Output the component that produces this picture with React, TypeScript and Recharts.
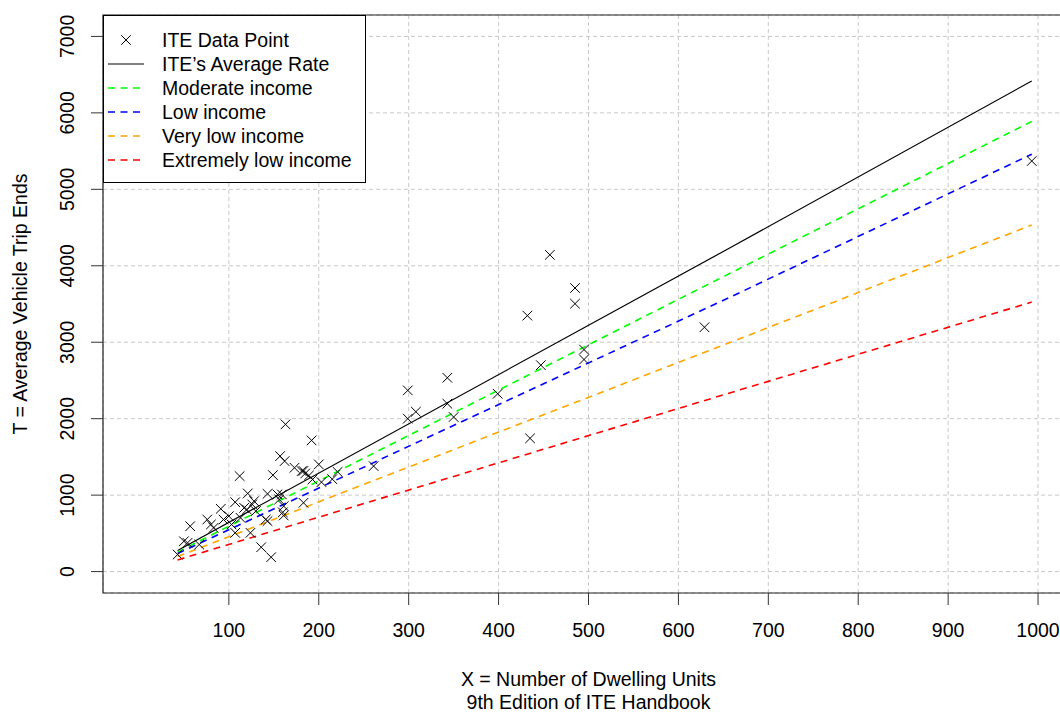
import React from "react";
import {
  CartesianGrid,
  ComposedChart,
  Label,
  Legend,
  Line,
  ReferenceArea,
  Scatter,
  XAxis,
  YAxis,
} from "recharts";

const FONT = '"Liberation Sans", Arial, Helvetica, sans-serif';
const FONT_SIZE = 19.5;

// ITE data points (X = dwelling units, T = trip ends)
const dwellingUnits = [
  43, 50, 54, 57, 67, 76, 80, 83, 91, 94, 100, 103, 107, 107, 112, 113, 117,
  120, 121, 124, 126, 128, 130, 136, 141, 143, 143, 147, 149, 154, 156, 157,
  159, 160, 161, 161, 162, 163, 173, 181, 183, 183, 185, 189, 192, 193, 200,
  203, 215, 221, 261, 299, 299, 308, 343, 343, 350, 399, 432, 435, 447, 457,
  485, 485, 495, 495, 629, 993,
];
const tripEnds = [
  223, 397, 376, 594, 354, 681, 616, 572, 821, 681, 725, 616, 507, 908, 1249,
  703, 834, 812, 1022, 507, 878, 921, 791, 319, 681, 661, 1017, 188, 1262,
  1009, 943, 1511, 1009, 775, 856, 734, 1445, 1926, 1358, 1314, 900, 1317,
  1284, 1257, 1716, 1205, 1402, 1170, 1209, 1304, 1380, 2000, 2370, 2091,
  2196, 2535, 2022, 2326, 3348, 1743, 2700, 4143, 3504, 3709, 2774, 2904,
  3196, 5370,
];

// fitted lines, read at the start, middle and end of each curve
const fitUnits = [43, 658, 993];
const iteAverageRate = [277, 4239, 6417];
const moderateIncome = [255, 3905, 5888];
const lowIncome = [236, 3592, 5459];
const veryLowIncome = [196, 3000, 4533];
const extremelyLowIncome = [153, 2340, 3525];

const xTicks = [100, 200, 300, 400, 500, 600, 700, 800, 900, 1000];
const yTicks = [0, 1000, 2000, 3000, 4000, 5000, 6000, 7000];

const points = dwellingUnits.map((x, i) => ({ x, y: tripEnds[i] }));
const toSeries = (ys: number[]) => fitUnits.map((x, i) => ({ x, y: ys[i] }));

const DASH = "7 5.5";

const fits = [
  { name: "ITE’s Average Rate", data: toSeries(iteAverageRate), color: "#000000", dash: undefined as string | undefined },
  { name: "Moderate income", data: toSeries(moderateIncome), color: "#00ff00", dash: DASH },
  { name: "Low income", data: toSeries(lowIncome), color: "#0000ff", dash: DASH },
  { name: "Very low income", data: toSeries(veryLowIncome), color: "#ffa500", dash: DASH },
  { name: "Extremely low income", data: toSeries(extremelyLowIncome), color: "#ff0000", dash: DASH },
];

function Cross({ cx, cy }: { cx?: number; cy?: number }) {
  if (cx == null || cy == null) return null;
  const r = 4.8;
  return (
    <path
      d={`M${cx - r},${cy - r}L${cx + r},${cy + r}M${cx - r},${cy + r}L${cx + r},${cy - r}`}
      stroke="#000"
      strokeWidth={1}
      fill="none"
    />
  );
}

function XTick({ x, y, payload }: any) {
  return (
    <text x={x} y={y + 32} textAnchor="middle" fontFamily={FONT} fontSize={FONT_SIZE} fill="#000">
      {payload.value}
    </text>
  );
}

function YTick({ x, y, payload }: any) {
  const bx = x - 17;
  return (
    <text
      x={bx}
      y={y}
      transform={`rotate(-90, ${bx}, ${y})`}
      textAnchor="middle"
      fontFamily={FONT}
      fontSize={FONT_SIZE}
      fill="#000"
    >
      {payload.value}
    </text>
  );
}

function LegendBox() {
  const rows = [
    { name: "ITE Data Point", kind: "point" as const, color: "#000", dash: undefined as string | undefined },
    ...fits.map((f) => ({ name: f.name, kind: "line" as const, color: f.color, dash: f.dash })),
  ];
  return (
    <div
      style={{
        width: 263,
        height: 168,
        boxSizing: "border-box",
        border: "1px solid #000",
        background: "#fff",
        paddingTop: 12,
        fontFamily: FONT,
        fontSize: FONT_SIZE,
        color: "#000",
      }}
    >
      {rows.map((r) => (
        <div key={r.name} style={{ display: "flex", alignItems: "center", height: 24 }}>
          <svg width={58} height={24} style={{ flex: "none" }}>
            {r.kind === "point" ? (
              <Cross cx={22} cy={12} />
            ) : (
              <line
                x1={4}
                x2={40}
                y1={12}
                y2={12}
                stroke={r.color}
                strokeWidth={r.dash ? 1.6 : 1.2}
                strokeDasharray={r.dash}
              />
            )}
          </svg>
          <span style={{ whiteSpace: "nowrap" }}>{r.name}</span>
        </div>
      ))}
    </div>
  );
}

export default function App() {
  return (
    <div
      style={{
        position: "absolute",
        left: 0,
        top: 0,
        width: 1060,
        height: 712,
        overflow: "hidden",
        background: "#fff",
      }}
    >
      <ComposedChart width={1080} height={712} margin={{ top: 15, right: 6, bottom: 0, left: 0 }}>
        <CartesianGrid stroke="#c8c8c8" strokeDasharray="4 3" />
        <XAxis
          type="number"
          dataKey="x"
          domain={[-40, 1040]}
          ticks={xTicks}
          interval={0}
          allowDataOverflow
          height={119}
          axisLine={false}
          tickLine={{ stroke: "#333" }}
          tickSize={12}
          tickMargin={0}
          tick={<XTick />}
        >
          <Label
            content={({ viewBox }: any) => {
              const cx = viewBox.x + viewBox.width / 2;
              return (
                <text textAnchor="middle" fontFamily={FONT} fontSize={FONT_SIZE} fill="#000">
                  <tspan x={cx} y={viewBox.y + 93}>X = Number of Dwelling Units</tspan>
                  <tspan x={cx} y={viewBox.y + 116}>9th Edition of ITE Handbook</tspan>
                </text>
              );
            }}
          />
        </XAxis>
        <YAxis
          type="number"
          dataKey="y"
          domain={[-280, 7280]}
          ticks={yTicks}
          interval={0}
          allowDataOverflow
          width={103}
          axisLine={false}
          tickLine={{ stroke: "#333" }}
          tickSize={12}
          tickMargin={0}
          tick={<YTick />}
        >
          <Label
            content={({ viewBox }: any) => {
              const cy = viewBox.y + viewBox.height / 2;
              const bx = 27;
              return (
                <text
                  x={bx}
                  y={cy}
                  transform={`rotate(-90, ${bx}, ${cy})`}
                  textAnchor="middle"
                  fontFamily={FONT}
                  fontSize={FONT_SIZE}
                  fill="#000"
                >
                  T = Average Vehicle Trip Ends
                </text>
              );
            }}
          />
        </YAxis>
        <ReferenceArea
          x1={-40}
          x2={1040}
          y1={-280}
          y2={7280}
          ifOverflow="visible"
          fill="none"
          fillOpacity={0}
          stroke="#222"
          strokeWidth={1.2}
        />
        <Scatter
          name="ITE Data Point"
          data={points}
          shape={(p: any) => <Cross cx={p.cx} cy={p.cy} />}
          isAnimationActive={false}
          legendType="none"
        />
        {fits.map((f) => (
          <Line
            key={f.name}
            name={f.name}
            data={f.data}
            dataKey="y"
            type="linear"
            stroke={f.color}
            strokeWidth={f.dash ? 1.6 : 1.2}
            strokeDasharray={f.dash}
            dot={false}
            activeDot={false}
            isAnimationActive={false}
            legendType="none"
          />
        ))}
        <Legend
          layout="vertical"
          align="center"
          verticalAlign="middle"
          wrapperStyle={{ left: 103, top: 15, width: 263, height: 168 }}
          content={() => <LegendBox />}
        />
      </ComposedChart>
    </div>
  );
}
